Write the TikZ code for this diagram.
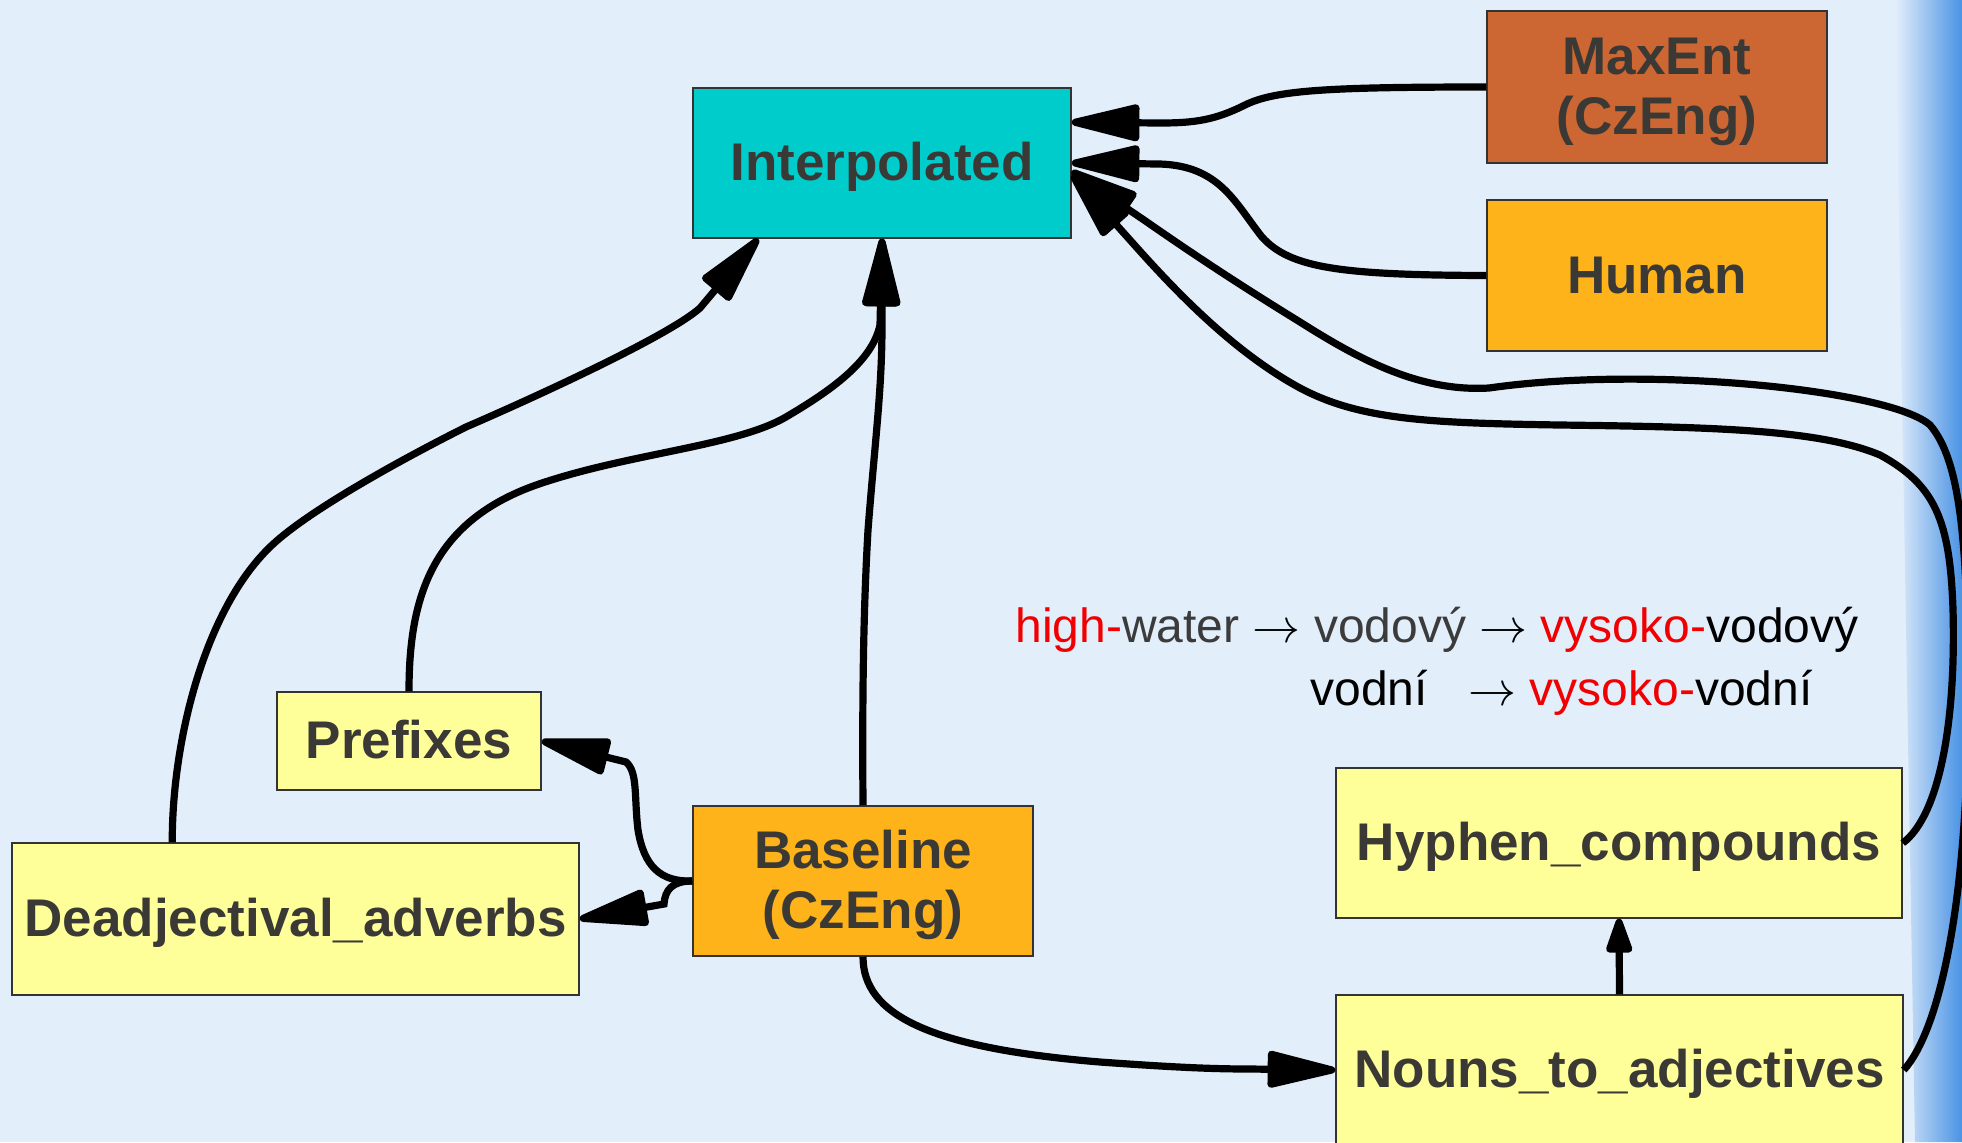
\RequirePackage{fix-cm}
\documentclass[tikz,border=0pt]{standalone}
\usepackage{fontspec}
\setmainfont{Liberation Sans}
\usetikzlibrary{arrows.meta,calc}
\definecolor{bgblue}{HTML}{E3EEFB}
\definecolor{streakblue}{HTML}{4A93E4}
\definecolor{cyanbox}{HTML}{00CCCC}
\definecolor{rustbox}{HTML}{CC6633}
\definecolor{orangebox}{HTML}{FFB31A}
\definecolor{yellowbox}{HTML}{FFFF99}
\definecolor{boxtext}{HTML}{3B3935}
\definecolor{wordgray}{HTML}{3B3B3B}
\definecolor{wordred}{HTML}{F00000}
\newcommand\boxlabel[1]{\raisebox{-2.75pt}[\height][\depth]{\begin{tabular}{@{}c@{}}#1\end{tabular}}}
\begin{document}
\begin{tikzpicture}[x=0.5pt,y=-0.5pt,
  box/.style={draw=black!80, line width=0.75pt, inner sep=0pt, align=center,
    text=boxtext, font=\bfseries\fontsize{26.5pt}{30pt}\selectfont},
  conn/.style={line width=3.6pt, -{Triangle[length=40pt,width=18.5pt,round]}},
  smallconn/.style={line width=3.6pt, -{Triangle[length=21pt,width=13.5pt,round]}},
  extext/.style={anchor=base west, inner sep=0pt, font=\fontsize{24pt}{28pt}\selectfont}
]
\useasboundingbox (0,0) rectangle (1962,1142);
\fill[bgblue] (0,0) rectangle (1962,1142);
\shade[left color=bgblue, right color=streakblue] (1895,0) -- (1962,0) -- (1962,1142) -- (1915,1142) -- cycle;

% nodes
\node[box, fill=cyanbox, minimum width=189pt, minimum height=75pt] (interp) at (882,163) {\boxlabel{Interpolated}};
\node[box, fill=rustbox, minimum width=170pt, minimum height=76pt] (maxent) at (1657,87) {\boxlabel{MaxEnt\\(CzEng)}};
\node[box, fill=orangebox, minimum width=170pt, minimum height=75.5pt] (human) at (1657,275.5) {\boxlabel{Human}};
\node[box, fill=orangebox, minimum width=170pt, minimum height=75pt] (baseline) at (863,881) {\boxlabel{Baseline\\(CzEng)}};
\node[box, fill=yellowbox, minimum width=132pt, minimum height=49pt] (prefixes) at (409,741) {\boxlabel{Prefixes}};
\node[box, fill=yellowbox, minimum width=283.5pt, minimum height=76pt] (deadj) at (295.5,919) {\boxlabel{Deadjectival\_adverbs}};
\node[box, fill=yellowbox, minimum width=283pt, minimum height=75pt] (hyphen) at (1619,843) {\boxlabel{Hyphen\_compounds}};
\node[box, fill=yellowbox, minimum width=283.5pt, minimum height=75pt] (nouns) at (1619.5,1070) {\boxlabel{Nouns\_to\_adjectives}};

% example text
\node[extext] (ex1) at (1015,642) {\textcolor{wordred}{high-}\textcolor{wordgray}{water} $\rightarrow$ \textcolor{wordgray}{vodový} $\rightarrow$ \textcolor{wordred}{vysoko-}vodový};
\node[extext] (ex2) at (1310,705) {vodní};
\node[extext] (ex3) at (1468,705) {$\rightarrow$ \textcolor{wordred}{vysoko-}vodní};

% helper coordinates
\coordinate (tipMax) at ($(interp.north east)+(0,35)$);
\coordinate (tipDeadj) at ($(interp.south west)+(66,0)$);
\coordinate (deadjTop) at ($(deadj.north west)+(161,0)$);
\coordinate (tipHy) at ($(interp.east)+(0,12)$);
\coordinate (tipNo) at ($(interp.east)+(0,8)$);

% connectors
\draw[conn] (maxent.west) .. controls (1330,87) and (1275,90) .. (1245,105)
  .. controls (1215,120) and (1195,123) .. (1160,123) -- (tipMax);
\draw[conn] (human.west) .. controls (1340,275) and (1290,268) .. (1262,237)
  .. controls (1235,203) and (1220,166) .. (1160,164) -- (interp.east);
\draw[conn] (baseline.north) .. controls (862,680) and (864,600) .. (868,530)
  .. controls (875,440) and (882,390) .. (882,325) -- (interp.south);
\draw[conn] (prefixes.north) .. controls (409,600) and (430,520) .. (542,483)
  .. controls (632,453) and (736,446) .. (786,417)
  .. controls (830,391) and (872,362) .. (880,325) -- (interp.south);
\draw[conn] (deadjTop) .. controls (172,740) and (205,610) .. (270,547)
  .. controls (310,508) and (420,450) .. (466,427)
  .. controls (540,395) and (670,335) .. (700,308) -- (tipDeadj);
\draw[conn] (baseline.west) .. controls (660,882) and (644,866) .. (638,830)
  .. controls (634,797) and (638,772) .. (626,762) -- (prefixes.east);
\draw[conn] (baseline.west) .. controls (672,881) and (665,890) .. (664,904) -- (deadj.east);
\draw[conn] (baseline.south) .. controls (863,1015) and (930,1048) .. (1100,1062)
  .. controls (1170,1067) and (1210,1069) .. (1250,1069) -- (nouns.west);
\draw[smallconn] (nouns.north) -- (hyphen.south);
\draw[conn] (hyphen.east) .. controls (1940,815) and (1956,720) .. (1953,610)
  .. controls (1950,520) and (1935,485) .. (1880,455)
  .. controls (1820,430) and (1720,427) .. (1560,425)
  .. controls (1430,423) and (1360,420) .. (1300,388)
  .. controls (1230,350) and (1170,285) .. (1130,240) -- (tipHy);
\draw[conn] (nouns.east) .. controls (1940,1030) and (1968,900) .. (1968,700)
  .. controls (1968,540) and (1960,460) .. (1930,425)
  .. controls (1890,390) and (1650,365) .. (1489,388)
  .. controls (1420,392) and (1360,360) .. (1300,322)
  .. controls (1235,282) and (1190,252) .. (1144,220) -- (tipNo);
\end{tikzpicture}
\end{document}
